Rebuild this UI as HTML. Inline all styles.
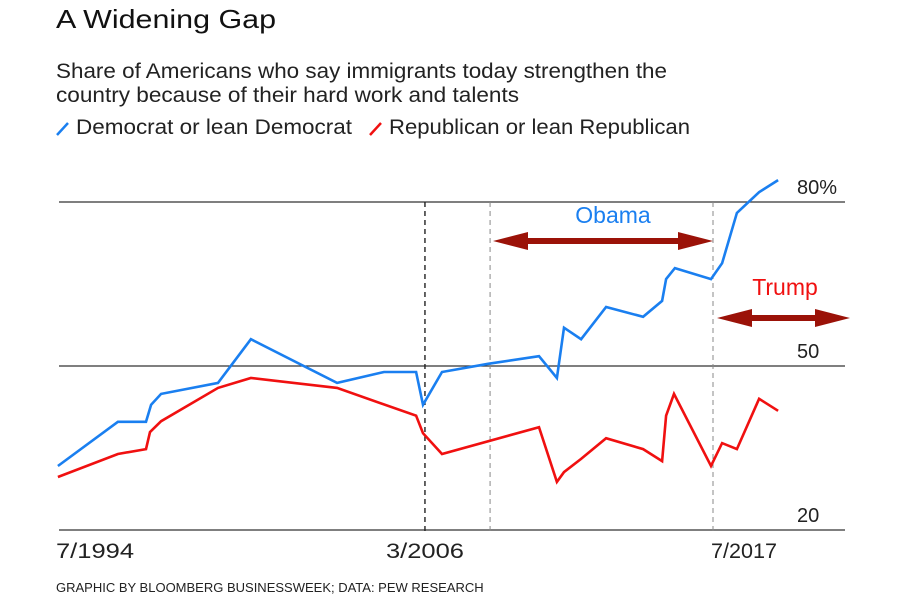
<!DOCTYPE html>
<html><head><meta charset="utf-8"><style>
body{margin:0;background:#fff;font-family:"Liberation Sans",sans-serif;}
svg{display:block}
</style></head><body>
<svg id="chart" width="900" height="600">
<text x="56" y="28" font-size="26" fill="#111" textLength="220" lengthAdjust="spacingAndGlyphs">A Widening Gap</text>
<text x="56" y="78" font-size="21" fill="#222" textLength="611" lengthAdjust="spacingAndGlyphs">Share of Americans who say immigrants today strengthen the</text>
<text x="56" y="102" font-size="21" fill="#222" textLength="463" lengthAdjust="spacingAndGlyphs">country because of their hard work and talents</text>
<g>
<line x1="57" y1="135" x2="68" y2="123" stroke="#1a7ff0" stroke-width="2.5"/>
<text x="76" y="134" font-size="21" fill="#222" textLength="276" lengthAdjust="spacingAndGlyphs">Democrat or lean Democrat</text>
<line x1="370" y1="135" x2="381" y2="123" stroke="#f01010" stroke-width="2.5"/>
<text x="389" y="134" font-size="21" fill="#222" textLength="301" lengthAdjust="spacingAndGlyphs">Republican or lean Republican</text>
</g>
<g id="grid"></g>
<g id="marks"></g>
<text x="56" y="592" font-size="13" fill="#222">GRAPHIC BY BLOOMBERG BUSINESSWEEK; DATA: PEW RESEARCH</text>
</svg>
<script>
const yTicks=[80,50,20];
const yTickLabels=["80%","50","20"];
const xTicks=[1994.5,2007.37,2017.5];
const xTickLabels=["7/1994","3/2006","7/2017"];
const demX=[1994.46,1996.57,1997.56,1997.74,1998.09,2000.09,2001.25,2004.28,2005.93,2007.06,2007.30,2007.97,2009.59,2011.38,2012.01,2012.26,2012.86,2013.74,2015.04,2015.71,2015.85,2016.16,2017.43,2017.82,2018.34,2019.12,2019.79];
const demY=[31.7,39.8,39.8,42.9,44.9,46.9,54.9,46.9,48.9,48.9,42.9,48.9,50.4,51.8,47.8,57.0,54.9,60.8,59.0,61.9,65.9,67.9,65.9,68.8,78.0,81.8,84.0];
const repX=[1994.46,1996.57,1997.56,1997.70,1998.09,2000.09,2001.25,2004.28,2007.06,2007.30,2007.97,2011.38,2012.01,2012.26,2012.86,2013.74,2015.04,2015.71,2015.85,2016.13,2017.43,2017.82,2018.34,2019.12,2019.79];
const repY=[29.7,33.9,34.8,37.9,39.9,46.0,47.8,46.0,40.9,37.7,33.9,38.8,28.8,30.6,33.0,36.8,34.8,32.6,40.9,44.9,31.7,35.9,34.8,44.0,41.8];
const eventX=[2007.37,2009.66,2017.5];
const NS="http://www.w3.org/2000/svg";
const xs=v=>59+(v-1994.5)*(713-59)/(2017.5-1994.5);
const ys=v=>530-(v-20)*(530-202)/60;
function mk(tag,attrs,parent){const e=document.createElementNS(NS,tag);for(const k in attrs)e.setAttribute(k,attrs[k]);parent.appendChild(e);return e;}
const grid=document.getElementById('grid'),marks=document.getElementById('marks');
yTicks.forEach((t,i)=>{
 const l=mk('line',{x1:59,x2:845,y1:ys(t),y2:ys(t),stroke:'#333','stroke-width':1.3},grid);
 
 
 const tx=mk('text',{x:797,y:ys(t)-8,'font-size':20,fill:'#222'},grid);
 tx.textContent=yTickLabels[i];
 
 
});
xTicks.forEach((t,i)=>{
 const tx=mk('text',{x:xs(t),y:558,'font-size':21,fill:'#222','text-anchor':'middle',textLength:78,lengthAdjust:'spacingAndGlyphs'},grid);
 if(i==0){tx.setAttribute('x',xs(t)-3);tx.setAttribute('text-anchor','start');}
 if(i==2){tx.setAttribute('x',xs(t)-2);tx.setAttribute('text-anchor','start');tx.setAttribute('textLength',66);}
 tx.textContent=xTickLabels[i];
 
 
});
eventX.forEach((t,i)=>{
 const l=mk('line',{x1:xs(t),x2:xs(t),y1:ys(80),y2:532,stroke:i==0?'#222':'#888','stroke-width':i==0?1.4:1,'stroke-dasharray':'5,4'},grid);
 
 
});
function line(X,Y,color,name){
 const d=X.map((x,i)=>(i?'L':'M')+xs(x).toFixed(1)+','+ys(Y[i]).toFixed(1)).join('');
 const p=mk('path',{d:d,fill:'none',stroke:color,'stroke-width':2.6,'stroke-linejoin':'miter'},marks);
 
 
}
line(demX,demY,'#1a7ff0','democrat-line');
line(repX,repY,'#f01010','republican-line');
function arrow(x1,x2,y,name){
 const c='#9b1208';
 const g=mk('g',{},marks);
 
 
 mk('rect',{x:x1+30,y:y-3,width:x2-x1-60,height:6,fill:c},g);
 mk('polygon',{points:`${x1},${y} ${x1+35},${y-9} ${x1+35},${y+9}`,fill:c},g);
 mk('polygon',{points:`${x2},${y} ${x2-35},${y-9} ${x2-35},${y+9}`,fill:c},g);
}
arrow(493,713,241,'obama-arrow');
arrow(717,850,318,'trump-arrow');
const ob=mk('text',{x:613,y:223,'font-size':23,fill:'#1a7ff0','text-anchor':'middle'},marks);
ob.textContent='Obama';


const tr=mk('text',{x:785,y:295,'font-size':23,fill:'#f01010','text-anchor':'middle'},marks);
tr.textContent='Trump';


</script>
</body></html>
